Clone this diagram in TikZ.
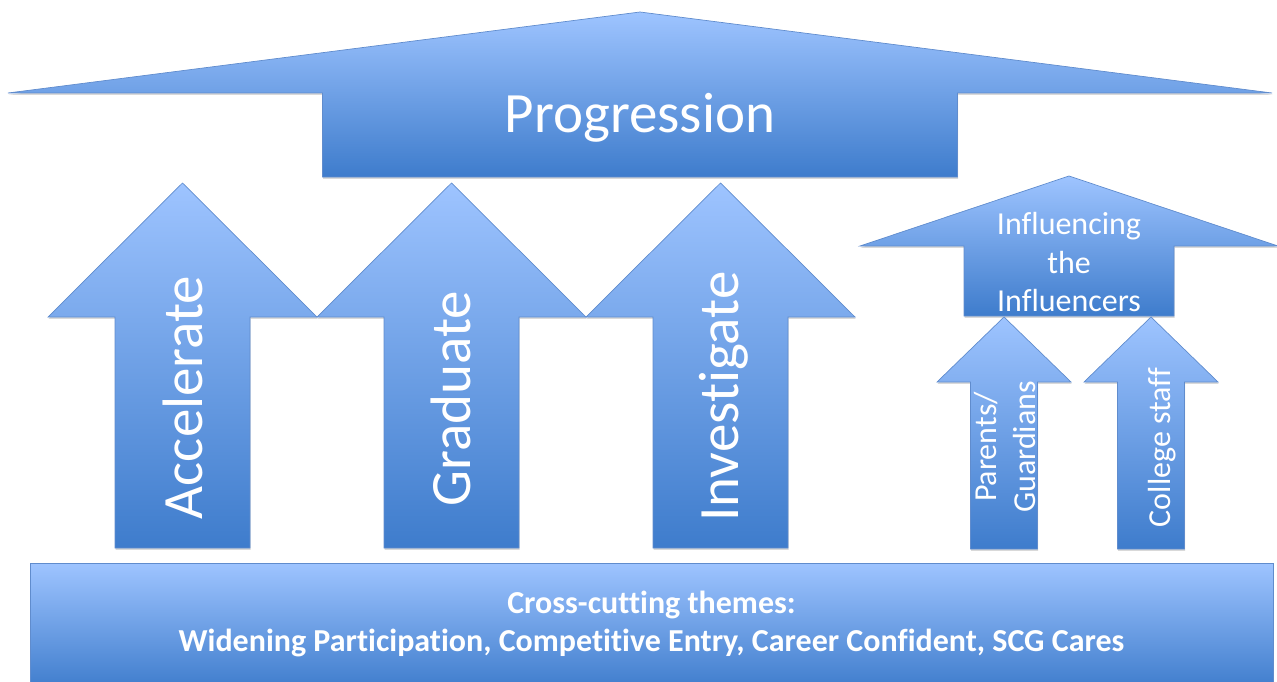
\documentclass[tikz,border=0pt]{standalone}
\usepackage{fontspec}
\setmainfont{Carlito}[Ligatures=NoCommon]
\usetikzlibrary{shadows}
\definecolor{bluetop}{RGB}{158,196,255}
\definecolor{bluebot}{RGB}{62,124,204}
\definecolor{blueedge}{RGB}{96,140,205}
\tikzset{
  blockshape/.style={top color=bluetop, bottom color=bluebot, draw=blueedge,
    line width=0.7pt, line join=miter,
    drop shadow={shadow xshift=0.6pt, shadow yshift=-1.8pt, opacity=0.3}},
  bigtext/.style={text=white, font=\fontsize{57}{68}\selectfont, inner sep=0pt},
  smalltext/.style={text=white, font=\fontsize{32}{38.5}\selectfont, inner sep=0pt, align=center},
  bandtext/.style={text=white, font=\bfseries\fontsize{32}{38}\selectfont, inner sep=0pt, align=center},
}
% #1 centre x, #2 tip y, #3 wing y, #4 wing half width, #5 shaft half width, #6 bottom y
\def\arrowpoly#1#2#3#4#5#6{(#1,#2) -- (#1+#4,#3) -- (#1+#5,#3) -- (#1+#5,#6) -- (#1-#5,#6) -- (#1-#5,#3) -- (#1-#4,#3) -- cycle}
\begin{document}
\begin{tikzpicture}[x=1pt,y=-1pt]
\useasboundingbox (0,0) rectangle (1277,682);
% Progression
\path[blockshape] \arrowpoly{640}{12}{93}{632}{317.5}{177};
% three main arrows
\path[blockshape] \arrowpoly{182.5}{183}{317}{134.5}{67.5}{548};
\path[blockshape] \arrowpoly{451.5}{183}{317}{134.5}{67.5}{548};
\path[blockshape] \arrowpoly{720.5}{183}{317}{134.5}{67.5}{548};
% influencing
\path[blockshape] \arrowpoly{1069}{176}{246}{209}{105}{316};
\path[blockshape] \arrowpoly{1004}{317}{382}{67}{33.5}{549};
\path[blockshape] \arrowpoly{1151}{317}{382}{67}{33.5}{549};
% bottom band
\path[blockshape] (30,563) rectangle (1273,690);
% texts
\node[bigtext, anchor=base] (prog) at (640,133) {Progression};
\node[bigtext, rotate=90, anchor=base] (acc) at (202,397.5) {Accelerate};
\node[bigtext, rotate=90, anchor=base] (grad) at (470,398.5) {Graduate};
\node[bigtext, rotate=90, anchor=base] (inv) at (738,396.5) {Investigate};
\node[smalltext] (infl) at (1069,262.5) {Influencing\\the\\Influencers};
\node[smalltext, rotate=90] (par) at (1005,447) {Parents/\\Guardians};
\node[smalltext, rotate=90, anchor=base] (col) at (1170,447.5) {College staff};
\node[bandtext] (band) at (651.5,624) {Cross-cutting themes:\\Widening Participation, Competitive Entry, Career Confident, SCG Cares};
\end{tikzpicture}
\end{document}
